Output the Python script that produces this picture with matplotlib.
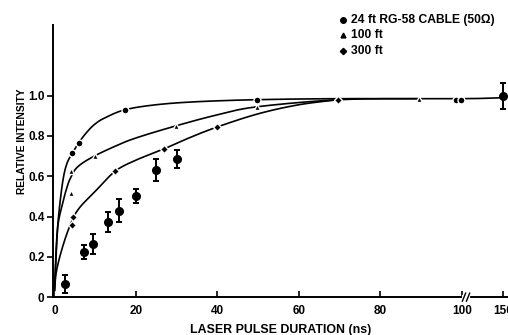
import numpy as np
import matplotlib
matplotlib.use("Agg")
import matplotlib.pyplot as plt

plt.rcParams['font.family'] = ['Liberation Sans', 'DejaVu Sans']
plt.rcParams['font.weight'] = 'bold'

# ---- data ----
# markers
x_24 = [4.4, 5.9, 17.3, 49.8, 98.5, 99.8]
y_24 = [0.715, 0.765, 0.93, 0.98, 0.98, 0.98]

x_100 = [4.1, 4.1, 10, 29.8, 49.8, 89.5]
y_100 = [0.625, 0.515, 0.70, 0.85, 0.945, 0.985]

x_300 = [4.4, 4.6, 14.9, 26.8, 40, 69.7]
y_300 = [0.36, 0.40, 0.625, 0.735, 0.845, 0.98]

x_meas = [2.7, 7.3, 9.4, 13.2, 15.9, 20, 24.9, 30, 150]
y_meas = [0.065, 0.225, 0.265, 0.375, 0.43, 0.50, 0.63, 0.685, 1.0]
e_meas = [0.045, 0.035, 0.05, 0.05, 0.055, 0.035, 0.055, 0.045, 0.065]

# fitted curves
cx_24 = [0, 0.5, 1, 2, 3, 4.4, 5.9, 8, 10, 12.4, 17.3, 25, 35, 49.8, 70, 100, 150]
cy_24 = [0.03, 0.25, 0.40, 0.57, 0.66, 0.715, 0.765, 0.82, 0.86, 0.89, 0.93, 0.955, 0.97, 0.98, 0.985, 0.985, 0.99]

cx_100 = [0, 0.7, 2, 3, 3.9, 5.6, 9.3, 15, 20, 29.8, 40, 49.8, 70, 89.5]
cy_100 = [0.03, 0.33, 0.465, 0.54, 0.59, 0.645, 0.695, 0.75, 0.79, 0.85, 0.905, 0.945, 0.98, 0.985]

cx_300 = [0, 0.5, 2, 4, 6, 10, 14.9, 20, 26.8, 33, 40, 50, 60, 69.7]
cy_300 = [0.03, 0.13, 0.25, 0.365, 0.44, 0.525, 0.625, 0.68, 0.735, 0.79, 0.845, 0.91, 0.955, 0.98]

xticks = [0, 20, 40, 60, 80, 100, 150]
yticks = [0, 0.2, 0.4, 0.6, 0.8, 1.0]
ytick_labels = ["0", "0.2", "0.4", "0.6", "0.8", "1.0"]

legend_labels = ["24 ft RG-58 CABLE (50Ω)", "100 ft", "300 ft"]


def pos(x):
    x = np.asarray(x, dtype=float)
    return np.where(x <= 100, x, 100 + (x - 100) * 0.2)


def smooth(xs, ys, n=20):
    p = np.column_stack([pos(xs), ys])
    out = []
    P = np.vstack([p[0], p, p[-1]])
    for i in range(1, len(P) - 2):
        p0, p1, p2, p3 = P[i - 1], P[i], P[i + 1], P[i + 2]
        t = np.linspace(0, 1, n, endpoint=False)[:, None]
        seg = 0.5 * ((2 * p1) + (-p0 + p2) * t + (2 * p0 - 5 * p1 + 4 * p2 - p3) * t ** 2
                     + (-p0 + 3 * p1 - 3 * p2 + p3) * t ** 3)
        out.append(seg)
    out.append(p[-1][None, :])
    out = np.vstack(out)
    return out[:, 0], out[:, 1]


fig = plt.figure(figsize=(5.08, 3.35), dpi=100)
ax = fig.add_axes([0.104, 0.113, 0.896, 0.812])

lw = 1.2
for cx, cy in [(cx_24, cy_24), (cx_100, cy_100), (cx_300, cy_300)]:
    sx, sy = smooth(cx, cy)
    ax.plot(sx, sy, color='black', lw=lw, zorder=2, solid_capstyle='butt')

ax.plot(pos(x_24), y_24, 'o', color='black', ms=5, mec='white', mew=1.0, zorder=3)
ax.plot(pos(x_100), y_100, '^', color='black', ms=4.5, mec='white', mew=1.0, zorder=3)
ax.plot(pos(x_300), y_300, 'D', color='black', ms=3.8, mec='white', mew=1.0, zorder=3)

ax.errorbar(pos(x_meas), y_meas, yerr=e_meas, fmt='o', color='black', ms=5.5,
            elinewidth=1.4, capsize=2.5, capthick=1.4, zorder=4)

ax.set_xlim(-0.4, 111.3)
ax.set_ylim(0, 1.35)

ax.spines['top'].set_visible(False)
ax.spines['right'].set_visible(False)
ax.spines['left'].set_linewidth(1.4)
ax.spines['bottom'].set_linewidth(1.4)

ax.set_xticks(pos(xticks))
ax.set_xticklabels([str(t) for t in xticks], fontsize=8.5, fontweight='bold')
ax.set_yticks(yticks)
ax.set_yticklabels(ytick_labels, fontsize=8.5, fontweight='bold')
ax.tick_params(axis='x', direction='in', length=4, width=1.2, pad=6)
ax.tick_params(axis='y', direction='out', length=4, width=1.2, pad=2)

ax.set_xlabel("LASER PULSE DURATION (ns)", fontsize=8.9, fontweight='bold', labelpad=5)
ax.set_ylabel("RELATIVE INTENSITY", fontsize=7.4, fontweight='bold')
ax.yaxis.set_label_coords(-0.057, 0.574)

# axis break mark
bx = pos([105])[0]
ax.plot([bx - 0.6, bx + 0.6], [0, 0], color='white', lw=3,
        clip_on=False, zorder=5)
for dx in (-0.5, 0.5):
    ax.plot([bx + dx - 0.4, bx + dx + 0.4], [-0.02, 0.02], color='black', lw=1.0,
            clip_on=False, zorder=6)

# legend
lx, ly = 0.638, 1.02
markers = ['o', '^', 'D']
msz = [4, 3.5, 3.2]
for i, (lab, m, s) in enumerate(zip(legend_labels, markers, msz)):
    yy = ly - i * 0.058
    ax.plot([lx], [yy], m, color='black', ms=s, transform=ax.transAxes, clip_on=False)
    ax.text(lx + 0.017, yy, lab, transform=ax.transAxes, fontsize=8.7,
            fontweight='bold', va='center', ha='left')

fig.savefig("out.png", dpi=100)
